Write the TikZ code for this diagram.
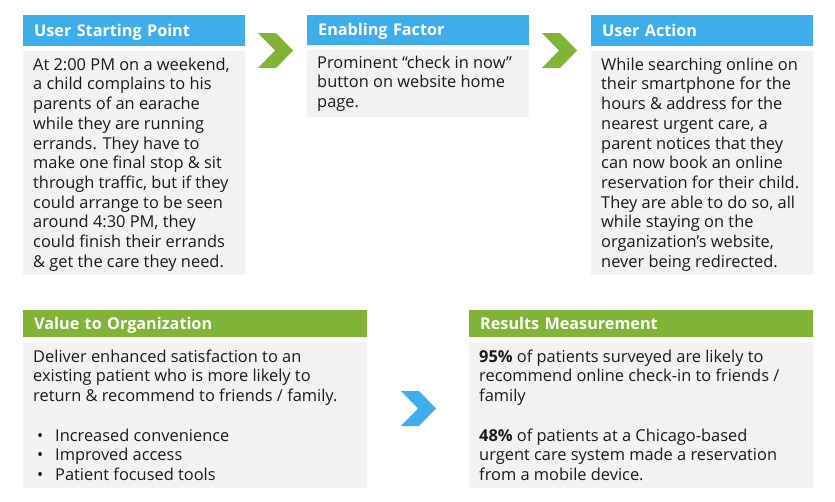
\documentclass[tikz,border=0pt]{standalone}
\usepackage{fontspec}
\setmainfont{Open Sans}
\definecolor{hblue}{HTML}{3DAEE9}
\definecolor{hgreen}{HTML}{80B336}
\definecolor{bgray}{HTML}{F2F2F2}
\definecolor{ink}{HTML}{1A1A1A}
\begin{document}
\begin{tikzpicture}[x=1pt,y=-1pt,
  hdr/.style={anchor=north west, inner xsep=11pt, inner ysep=0pt, align=left,
    text height=11.5pt, text depth=0pt,
    text=white, font=\fontsize{16.2}{18}\selectfont\bfseries},
  bodybox/.style={anchor=north west, fill=bgray, inner sep=0pt},
  bodytext/.style={anchor=north west, inner sep=0pt, align=left, text=ink,
    font=\fontsize{16.4}{19.7}\selectfont},
  chevron/.pic={\fill[pic actions] (0,0) -- (18,0) -- (35,17.5) -- (18,35) -- (0,35) -- (17,17.5) -- cycle;}
]
\useasboundingbox (0,0) rectangle (835,501);
% top row
\node[hdr, fill=hblue, minimum width=222pt, minimum height=31pt, text width=200pt] (h1) at (23,15) {User Starting Point};
\node[bodybox, minimum width=222pt, minimum height=224pt] (b1) at (23,51) {};
\node[bodytext] (t1) at (33,57) {\rule{0pt}{13pt}At 2:00 PM on a weekend,\\a child complains to his\\parents of an earache\\while they are running\\errands. They have to\\make one final stop \& sit\\through traffic, but if they\\could arrange to be seen\\around 4:30 PM, they\\could finish their errands\\\& get the care they need.};

\pic[fill=hgreen] (c1) at (258,33) {chevron};

\node[hdr, fill=hblue, minimum width=222pt, minimum height=30pt, text width=200pt] (h2) at (307,15) {Enabling Factor};
\node[bodybox, minimum width=222pt, minimum height=67pt] (b2) at (307,50) {};
\node[bodytext] (t2) at (317,55) {\rule{0pt}{13pt}Prominent “check in now”\\button on website home\\page.};

\pic[fill=hgreen] (c2) at (542,33) {chevron};

\node[hdr, fill=hblue, minimum width=222pt, minimum height=31pt, text width=200pt] (h3) at (591,15) {User Action};
\node[bodybox, minimum width=222pt, minimum height=224pt] (b3) at (591,51) {};
\node[bodytext] (t3) at (601,57) {\rule{0pt}{13pt}While searching online on\\their smartphone for the\\hours \& address for the\\nearest urgent care, a\\parent notices that they\\can now book an online\\reservation for their child.\\They are able to do so, all\\while staying on the\\organization’s website,\\never being redirected.};

% bottom row
\node[hdr, fill=hgreen, minimum width=344pt, minimum height=27pt, text width=322pt] (h4) at (23,310) {Value to Organization};
\node[bodybox, minimum width=344pt, minimum height=146pt] (b4) at (23,342) {};
\node[bodytext] (t4) at (33,349) {\rule{0pt}{13pt}Deliver enhanced satisfaction to an\\existing patient who is more likely to\\return \& recommend to friends / family.\\[19.7pt]\makebox[22pt][l]{\hspace{4pt}•}Increased convenience\\\makebox[22pt][l]{\hspace{4pt}•}Improved access\\\makebox[22pt][l]{\hspace{4pt}•}Patient focused tools};

\pic[fill=hblue] (c3) at (401,391) {chevron};

\node[hdr, fill=hgreen, minimum width=344pt, minimum height=27pt, text width=322pt] (h5) at (469,310) {Results Measurement};
\node[bodybox, minimum width=344pt, minimum height=146pt] (b5) at (469,342) {};
\node[bodytext] (t5) at (479,349) {\rule{0pt}{13pt}\textbf{95\%} of patients surveyed are likely to\\recommend online check-in to friends /\\family\\[19.7pt]\textbf{48\%} of patients at a Chicago-based\\urgent care system made a reservation\\from a mobile device.};
\end{tikzpicture}
\end{document}
